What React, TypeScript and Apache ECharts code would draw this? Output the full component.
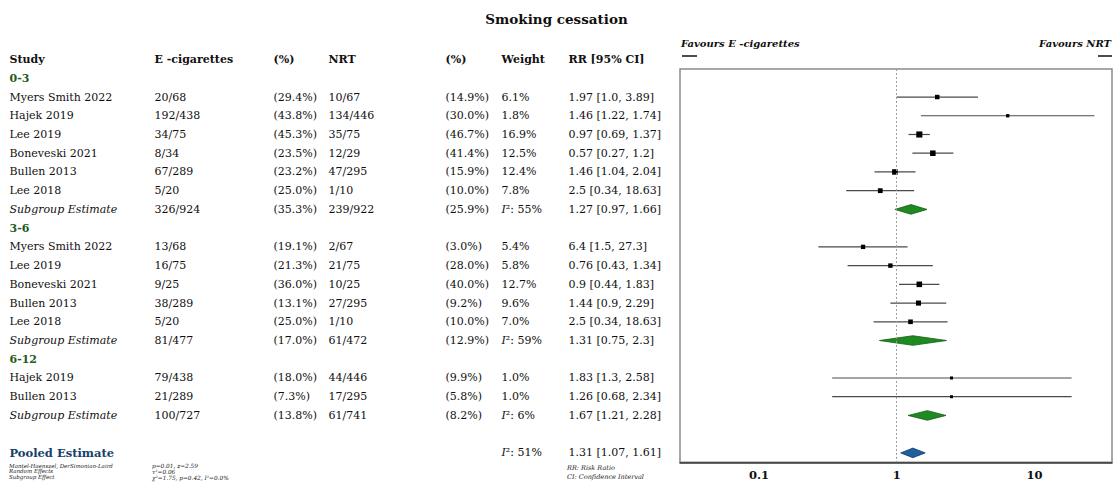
import React, { useEffect, useRef } from "react";
import * as echarts from "echarts";

// ---------- DATA ----------
const headers = ["Study", "E -cigarettes", "(%)", "NRT", "(%)", "Weight", "RR [95% CI]"];

const rowKind = [
  "group", "study", "study", "study", "study", "study", "study", "subgroup",
  "group", "study", "study", "study", "study", "study", "subgroup",
  "group", "study", "study", "subgroup",
  "blank", "pooled",
];

const studyNames = [
  "0-3", "Myers Smith 2022", "Hajek 2019", "Lee 2019", "Boneveski 2021", "Bullen 2013", "Lee 2018", "Subgroup Estimate",
  "3-6", "Myers Smith 2022", "Lee 2019", "Boneveski 2021", "Bullen 2013", "Lee 2018", "Subgroup Estimate",
  "6-12", "Hajek 2019", "Bullen 2013", "Subgroup Estimate",
  "", "Pooled Estimate",
];

const ecigEvents = [
  "", "20/68", "192/438", "34/75", "8/34", "67/289", "5/20", "326/924",
  "", "13/68", "16/75", "9/25", "38/289", "5/20", "81/477",
  "", "79/438", "21/289", "100/727",
  "", "",
];

const ecigPct = [
  "", "(29.4%)", "(43.8%)", "(45.3%)", "(23.5%)", "(23.2%)", "(25.0%)", "(35.3%)",
  "", "(19.1%)", "(21.3%)", "(36.0%)", "(13.1%)", "(25.0%)", "(17.0%)",
  "", "(18.0%)", "(7.3%)", "(13.8%)",
  "", "",
];

const nrtEvents = [
  "", "10/67", "134/446", "35/75", "12/29", "47/295", "1/10", "239/922",
  "", "2/67", "21/75", "10/25", "27/295", "1/10", "61/472",
  "", "44/446", "17/295", "61/741",
  "", "",
];

const nrtPct = [
  "", "(14.9%)", "(30.0%)", "(46.7%)", "(41.4%)", "(15.9%)", "(10.0%)", "(25.9%)",
  "", "(3.0%)", "(28.0%)", "(40.0%)", "(9.2%)", "(10.0%)", "(12.9%)",
  "", "(9.9%)", "(5.8%)", "(8.2%)",
  "", "",
];

const weights: (number | null)[] = [
  null, 6.1, 1.8, 16.9, 12.5, 12.4, 7.8, null,
  null, 5.4, 5.8, 12.7, 9.6, 7.0, null,
  null, 1.0, 1.0, null,
  null, null,
];

const heterogeneityI2: (number | null)[] = [
  null, null, null, null, null, null, null, 55,
  null, null, null, null, null, null, 59,
  null, null, null, 6,
  null, 51,
];

const rrLabels = [
  "", "1.97 [1.0, 3.89]", "1.46 [1.22, 1.74]", "0.97 [0.69, 1.37]", "0.57 [0.27, 1.2]", "1.46 [1.04, 2.04]", "2.5 [0.34, 18.63]", "1.27 [0.97, 1.66]",
  "", "6.4 [1.5, 27.3]", "0.76 [0.43, 1.34]", "0.9 [0.44, 1.83]", "1.44 [0.9, 2.29]", "2.5 [0.34, 18.63]", "1.31 [0.75, 2.3]",
  "", "1.83 [1.3, 2.58]", "1.26 [0.68, 2.34]", "1.67 [1.21, 2.28]",
  "", "1.31 [1.07, 1.61]",
];

// values as drawn in the forest plot (row by row)
const plotRR: (number | null)[] = [
  null, 1.97, 6.4, 1.46, 1.83, 0.97, 0.76, 1.27,
  null, 0.57, 0.9, 1.46, 1.44, 1.26, 1.31,
  null, 2.5, 2.5, 1.67,
  null, 1.31,
];
const plotLow: (number | null)[] = [
  null, 1.0, 1.5, 1.22, 1.3, 0.69, 0.43, 0.97,
  null, 0.27, 0.44, 1.04, 0.9, 0.68, 0.75,
  null, 0.34, 0.34, 1.21,
  null, 1.07,
];
const plotHigh: (number | null)[] = [
  null, 3.89, 27.3, 1.74, 2.58, 1.37, 1.34, 1.66,
  null, 1.2, 1.83, 2.04, 2.29, 2.34, 2.3,
  null, 18.63, 18.63, 2.28,
  null, 1.61,
];

const axisTicks = [0.1, 1, 10];

const footLeft = ["Mantel-Haenszel, DerSimonian-Laird", "Random Effects", "Subgroup Effect"];
const footMid = ["p=0.01, z=2.59", "τ²=0.06", "χ²=1.75, p=0.42, I²=0.0%"];
const footRight = ["RR: Risk Ratio", "CI: Confidence Interval"];

// ---------- LAYOUT / STYLE ----------
const FONT = "DejaVu Serif";
const colX = [9, 154, 273, 328, 445, 501, 568];
const ROW_STEP = 18.73;
const ROW0_Y = 78.3;
const GREEN = "#245a1c";
const BLUE = "#173f69";
const TXT = "#101010";

export default function App() {
  const ref = useRef<HTMLDivElement>(null);

  useEffect(() => {
    if (!ref.current) return;
    const chart = echarts.init(ref.current, undefined, { renderer: "svg" });

    const n = rowKind.length;
    const tableItems: any[] = [];
    const baseLabel = {
      show: true,
      position: "right",
      distance: 0,
      fontFamily: FONT,
      fontSize: 11,
      color: TXT,
      opacity: 1,
      rich: {
        it: { fontFamily: FONT, fontStyle: "italic", fontSize: 11, color: TXT },
      },
    };
    headers.forEach((h, c) => {
      tableItems.push({
        value: [colX[c], -1],
        label: { ...baseLabel, formatter: h, fontWeight: "bold", fontSize: 11 },
      });
    });
    for (let r = 0; r < n; r++) {
      const kind = rowKind[r];
      const w = weights[r];
      const i2 = heterogeneityI2[r];
      const weightText =
        w != null ? `${w.toFixed(1)}%` : i2 != null ? `{it|I}²: ${i2}%` : "";
      const cols = [studyNames[r], ecigEvents[r], ecigPct[r], nrtEvents[r], nrtPct[r], weightText, rrLabels[r]];
      cols.forEach((t, c) => {
        if (!t) return;
        let extra: any = {};
        if (c === 0 && kind === "group") extra = { fontWeight: "bold", color: GREEN };
        if (c === 0 && kind === "subgroup") extra = { fontStyle: "italic" };
        if (c === 0 && kind === "pooled") extra = { fontWeight: "bold", color: BLUE, fontSize: 11.5 };
        tableItems.push({ value: [colX[c], r], label: { ...baseLabel, formatter: t, ...extra } });
      });
    }

    const studyData: any[] = [];
    const diamondData: any[] = [];
    for (let r = 0; r < n; r++) {
      if (plotRR[r] == null) continue;
      if (rowKind[r] === "study") {
        studyData.push([plotLow[r], plotHigh[r], plotRR[r], r, weights[r]]);
      } else {
        diamondData.push([plotLow[r], plotHigh[r], plotRR[r], r, rowKind[r] === "pooled" ? 1 : 0]);
      }
    }

    const footText = (t: string, x: number, y: number, size: number) => ({
      type: "text",
      x,
      y,
      style: {
        text: t,
        font: `italic ${size}px "${FONT}"`,
        fill: "#1a1a1a",
        textVerticalAlign: "middle",
      },
    });

    const option: any = {
      animation: false,
      backgroundColor: "#ffffff",
      title: {
        text: "Smoking cessation",
        left: "center",
        top: 7,
        textStyle: { fontFamily: FONT, fontSize: 13.5, fontWeight: "bold", color: TXT },
      },
      grid: [
        {
          left: 680,
          top: ROW0_Y - 0.5 * ROW_STEP,
          width: 432,
          height: 21 * ROW_STEP,
          show: true,
          borderColor: "#8a8a8a",
          borderWidth: 1.5,
        },
        {
          left: 0,
          top: ROW0_Y - 1.5 * ROW_STEP,
          width: 670,
          height: 22 * ROW_STEP,
        },
      ],
      xAxis: [
        {
          type: "log",
          logBase: 10,
          gridIndex: 0,
          min: 0.0267,
          max: 36.6,
          splitLine: { show: false },
          axisTick: { show: false },
          axisLine: { show: true, onZero: false, lineStyle: { color: "#333", width: 1.5 } },
          axisLabel: {
            showMinLabel: false,
            showMaxLabel: false,
            margin: 7,
            fontFamily: FONT,
            fontSize: 11.5,
            fontWeight: "bold",
            color: TXT,
            formatter: (v: number) => {
              const nv = Number(v.toPrecision(3));
              return axisTicks.some((t) => Math.abs(t - nv) < 1e-9) ? String(nv) : "";
            },
          },
        },
        { type: "value", gridIndex: 1, min: 0, max: 670, show: false, axisLine: { onZero: false } },
      ],
      yAxis: [
        { type: "value", gridIndex: 0, inverse: true, min: -0.5, max: 20.5, show: false },
        { type: "value", gridIndex: 1, inverse: true, min: -1.5, max: 20.5, show: false },
      ],
      series: [
        {
          type: "scatter",
          xAxisIndex: 1,
          yAxisIndex: 1,
          symbolSize: 1,
          itemStyle: { color: "rgba(0,0,0,0)", opacity: 1 },
          silent: true,
          data: tableItems,
        },
        {
          type: "custom",
          xAxisIndex: 0,
          yAxisIndex: 0,
          encode: { x: [0, 1, 2], y: 3 },
          data: studyData,
          renderItem: (_p: any, api: any) => {
            const row = api.value(3);
            const a = api.coord([api.value(0), row]);
            const b = api.coord([api.value(1), row]);
            const c = api.coord([api.value(2), row]);
            const s = 2 + Math.sqrt(api.value(4));
            return {
              type: "group",
              children: [
                {
                  type: "line",
                  shape: { x1: a[0], y1: a[1], x2: b[0], y2: b[1] },
                  style: { stroke: "#4a4a4a", lineWidth: 1.2 },
                },
                {
                  type: "rect",
                  shape: { x: c[0] - s / 2, y: c[1] - s / 2, width: s, height: s },
                  style: { fill: "#000" },
                },
              ],
            };
          },
          markLine: {
            silent: true,
            symbol: "none",
            label: { show: false },
            lineStyle: { type: [2, 2], color: "#9a9a9a", width: 1 },
            data: [{ xAxis: 1 }],
          },
        },
        {
          type: "custom",
          xAxisIndex: 0,
          yAxisIndex: 0,
          encode: { x: [0, 1, 2], y: 3 },
          data: diamondData,
          renderItem: (_p: any, api: any) => {
            const row = api.value(3);
            const a = api.coord([api.value(0), row]);
            const b = api.coord([api.value(1), row]);
            const c = api.coord([api.value(2), row]);
            const h = 4.8;
            const pooled = api.value(4) === 1;
            return {
              type: "polygon",
              shape: {
                points: [
                  [a[0], a[1]],
                  [c[0], c[1] - h],
                  [b[0], b[1]],
                  [c[0], c[1] + h],
                ],
              },
              style: {
                fill: pooled ? "#1f5f9e" : "#1f8a22",
                stroke: pooled ? "#0f3a66" : "#0f5e12",
                lineWidth: 0.8,
              },
            };
          },
        },
      ],
      graphic: [
        {
          type: "text",
          x: 681,
          y: 43,
          style: {
            text: "Favours E -cigarettes",
            font: `italic bold 10px "${FONT}"`,
            fill: TXT,
            textVerticalAlign: "middle",
          },
        },
        {
          type: "text",
          x: 1111,
          y: 43,
          style: {
            text: "Favours NRT",
            font: `italic bold 10px "${FONT}"`,
            fill: TXT,
            textAlign: "right",
            textVerticalAlign: "middle",
          },
        },
        { type: "line", shape: { x1: 682, y1: 56, x2: 697, y2: 56 }, style: { stroke: "#111", lineWidth: 1.5 } },
        { type: "line", shape: { x1: 1098, y1: 56, x2: 1112, y2: 56 }, style: { stroke: "#111", lineWidth: 1.5 } },
        ...footLeft.map((t, i) => footText(t, 9, 465.5 + i * 5.8, 5.5)),
        ...footMid.map((t, i) => footText(t, 152, 465.5 + i * 6.2, 5.8)),
        ...footRight.map((t, i) => footText(t, 567, 468 + i * 8.5, 6.5)),
      ],
    };

    chart.setOption(option);
    return () => chart.dispose();
  }, []);

  return (
    <div
      ref={ref}
      style={{ position: "fixed", left: 0, top: 0, width: 1113, height: 490, background: "#fff" }}
    />
  );
}
